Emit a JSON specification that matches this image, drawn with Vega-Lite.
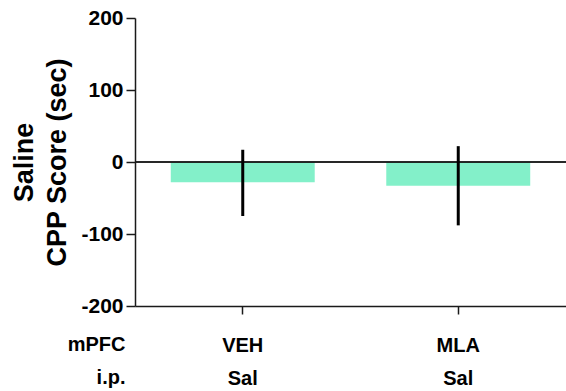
{
  "$schema": "https://vega.github.io/schema/vega-lite/v6.json",
  "autosize": {"type": "none"},
  "padding": {"left": 135, "top": 18, "right": 0, "bottom": 85},
  "width": 431,
  "height": 288,
  "background": "white",
  "config": {
    "font": "Liberation Sans",
    "view": {"stroke": null},
    "axis": {"grid": false, "domainColor": "#1a1a1a", "tickColor": "#1a1a1a", "domainWidth": 1.5, "tickWidth": 1.5, "labelColor": "black", "titleColor": "black", "labelFont": "Liberation Sans", "titleFont": "Liberation Sans"}
  },
  "data": {
    "values": [
      {"group": "VEH|Sal", "mean": -28, "low": -75, "high": 17},
      {"group": "MLA|Sal", "mean": -33, "low": -88, "high": 22}
    ]
  },
  "encoding": {
    "x": {
      "field": "group", "type": "nominal", "sort": null,
      "scale": {"type": "band", "paddingInner": 0, "paddingOuter": 0},
      "axis": {
        "title": ["mPFC", "i.p."],
        "titleFontSize": 20, "titleFontWeight": "bold", "titleLineHeight": 33,
        "titleAlign": "right", "titleAnchor": "start", "titleX": -10, "titleY": 28, "titleBaseline": "top",
        "labelExpr": "split(datum.label, '|')",
        "labelFontSize": 20, "labelFontWeight": "bold", "labelLineHeight": 33,
        "labelAngle": 0, "tickSize": 8, "labelPadding": 21
      }
    }
  },
  "layer": [
    {
      "mark": {"type": "bar", "color": "#83F0C9", "width": {"band": 0.668}},
      "encoding": {
        "y": {
          "field": "mean", "type": "quantitative",
          "scale": {"domain": [-200, 200], "nice": false},
          "axis": {
            "values": [-200, -100, 0, 100, 200],
            "labelExpr": "'' + datum.value",
            "title": ["Saline", "CPP Score (sec)"],
            "titleFontSize": 27, "titleFontWeight": "bold", "titleLineHeight": 33,
            "titlePadding": 9,
            "labelFontSize": 21, "labelFontWeight": "bold", "labelPadding": 3,
            "tickSize": 9
          }
        }
      }
    },
    {
      "mark": {"type": "rule", "color": "#1a1a1a", "strokeWidth": 1.5},
      "encoding": {"y": {"datum": 0, "type": "quantitative"}, "x": {"value": 0}, "x2": {"value": 431}}
    },
    {
      "mark": {"type": "rule", "color": "black", "strokeWidth": 3},
      "encoding": {
        "y": {"field": "low", "type": "quantitative"},
        "y2": {"field": "high"}
      }
    }
  ]
}
